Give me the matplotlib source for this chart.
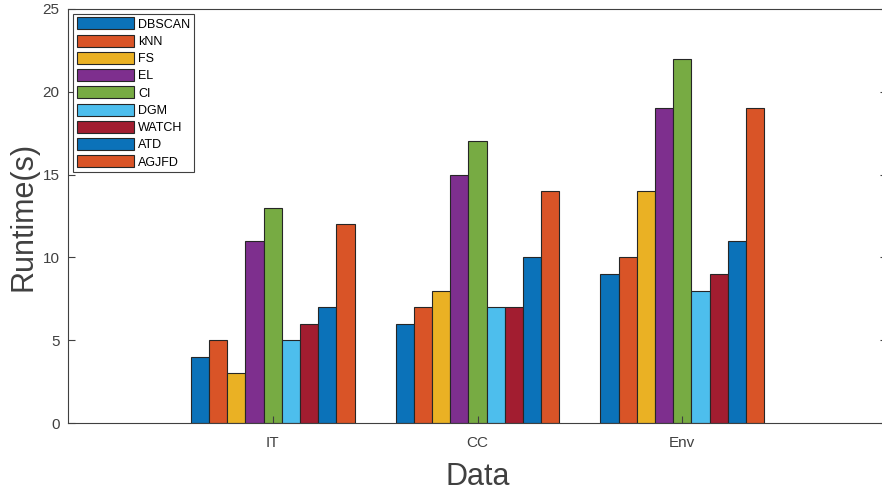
import numpy as np
import matplotlib.pyplot as plt

datasets = ['IT', 'CC', 'Env']
methods = ['DBSCAN', 'kNN', 'FS', 'EL', 'CI', 'DGM', 'WATCH', 'ATD', 'AGJFD']
runtime = {
    'DBSCAN': [4, 6, 9],
    'kNN': [5, 7, 10],
    'FS': [3, 8, 14],
    'EL': [11, 15, 19],
    'CI': [13, 17, 22],
    'DGM': [5, 7, 8],
    'WATCH': [6, 7, 9],
    'ATD': [7, 10, 11],
    'AGJFD': [12, 14, 19],
}
colors = ['#0b72b9', '#d95427', '#eab124', '#7e2f8e', '#77ab43',
          '#4dbeed', '#a21d30', '#0b72b9', '#d95427']

plt.rcParams['font.family'] = 'Liberation Sans'
grey = '#404040'

fig = plt.figure(figsize=(8.82, 4.94), dpi=100)
ax = fig.add_axes([68/882, (494-423)/494, (887-68)/882, (423-9)/494])

x = np.arange(1, len(datasets) + 1)
n = len(methods)
w = 0.8 / n
for i, m in enumerate(methods):
    ax.bar(x - 0.4 + w*(i + 0.5), runtime[m], width=w, color=colors[i],
           edgecolor='#262626', linewidth=0.8, label=m)

ax.set_xlim(0, 4)
ax.set_ylim(0, 25)
ax.set_xticks(x)
ax.set_xticklabels(datasets)
ax.set_yticks(np.arange(0, 26, 5))
ax.tick_params(direction='in', length=5, width=0.8, colors=grey,
               labelsize=11, top=False, right=True, pad=9)
ax.tick_params(axis='y', pad=6)
for s in ax.spines.values():
    s.set_color(grey)
    s.set_linewidth(0.8)
ax.set_xlabel('Data', fontsize=22, color=grey, labelpad=9)
ax.set_ylabel('Runtime(s)', fontsize=22, color=grey, labelpad=3)

leg = ax.legend(loc='upper left', bbox_to_anchor=(0.003, 0.995), fontsize=9,
                handlelength=4.6, handleheight=1.1, labelspacing=0.32,
                handletextpad=0.3, borderpad=0.3, borderaxespad=0.2,
                fancybox=False, edgecolor=grey, framealpha=1)
leg.get_frame().set_linewidth(0.8)
for t in leg.get_texts():
    t.set_color('black')

fig.savefig('out.png', dpi=100)
